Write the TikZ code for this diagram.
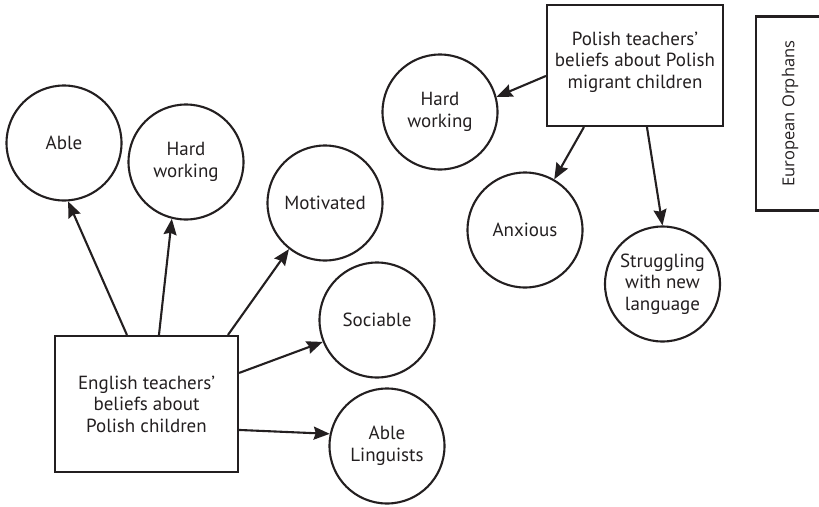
\documentclass[tikz,border=0pt]{standalone}
\usepackage{fontspec}
\setmainfont{PT Sans}
\newfontfamily\orphfont{Open Sans}
\usetikzlibrary{arrows.meta}
\definecolor{ink}{RGB}{35,31,32}

\begin{document}
\begin{tikzpicture}[x=1pt,y=-1pt,font=\fontsize{19}{21.5}\selectfont,
    line width=2.1pt,color=ink,every node/.style={draw,align=center},
    belief/.style={circle,minimum size=115pt,inner sep=0pt},
    group/.style={rectangle,inner sep=0pt},
    arr/.style={-{Stealth[length=16pt,width=13pt,inset=2pt]}}]
  \useasboundingbox (0,0) rectangle (819,506);

  % English teachers
  \node[group,minimum width=183pt,minimum height=136pt] (eng) at (146.5,404)
    {English teachers'\\beliefs about\\Polish children};
  \node[belief] (able) at (64,143) {Able};
  \node[belief] (hardE) at (186,162) {Hard\\working};
  \node[belief] (motiv) at (325,203) {Motivated};
  \node[belief] (socia) at (377,320) {Sociable};
  \node[belief] (lingu) at (387,446) {Able\\Linguists};

  \draw[arr] ([xshift=73pt]eng.north west) -- (able.-86);
  \draw[arr] ([xshift=105pt]eng.north west) -- (hardE.-104);
  \draw[arr] ([xshift=174pt]eng.north west) -- (motiv.-128);
  \draw[arr] ([yshift=-38pt]eng.north east) -- (socia.-158);
  \draw[arr] ([yshift=-95pt]eng.north east) -- (lingu.168);

  % Polish teachers
  \node[group,minimum width=176pt,minimum height=121pt] (pol) at (635,65.5)
    {Polish teachers'\\beliefs about Polish\\migrant children\\[-11pt]};
  \node[belief] (hardP) at (440,112) {Hard\\working};
  \node[belief] (anxio) at (525,230) {Anxious};
  \node[belief] (strug) at (662.5,284) {Struggling\\with new\\language};

  \draw[arr] ([yshift=-72pt]pol.north west) -- (hardP.15);
  \draw[arr] ([xshift=38pt]pol.south west) -- (anxio.60);
  \draw[arr] ([xshift=101pt]pol.south west) -- (strug.90);

  % European Orphans
  \node[group,rotate=90,minimum width=194pt,minimum height=68pt,
    font=\orphfont\fontsize{16.5}{19}\selectfont] (orph) at (790,113.5)
    {European Orphans};
\end{tikzpicture}
\end{document}
